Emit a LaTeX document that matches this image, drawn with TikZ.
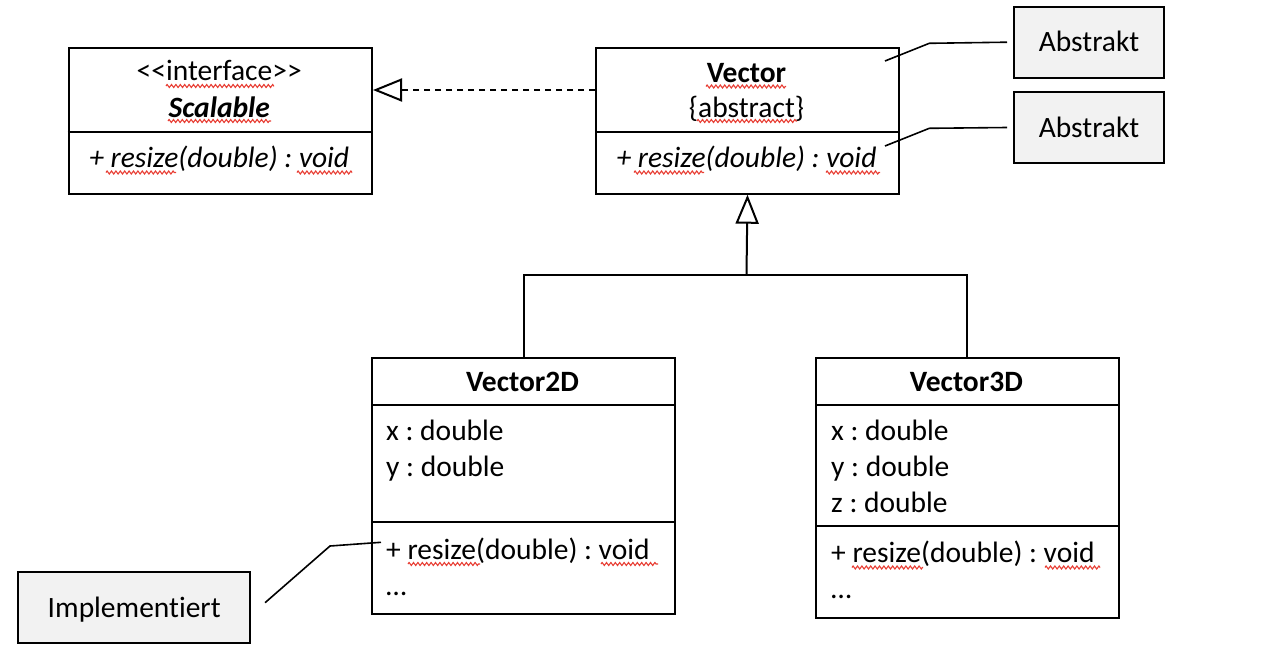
\documentclass[tikz,border=0pt]{standalone}
\usepackage{fontspec}
\setmainfont{Carlito}[Ligatures=NoCommon]
\usetikzlibrary{arrows.meta,decorations.pathmorphing}
\definecolor{notegray}{RGB}{242,242,242}
\definecolor{squigred}{RGB}{232,62,52}
\frenchspacing
\begin{document}
\begin{tikzpicture}[x=1pt,y=-1pt,
  every node/.style={font=\fontsize{29.5}{35.8}\selectfont, inner sep=0pt},
  classbox/.style={draw, line width=2pt, anchor=north west},
  sepline/.style={line width=2pt},
  txt/.style={anchor=base},
  txtl/.style={anchor=base west},
  notebox/.style={draw, line width=2pt, fill=notegray, minimum width=150pt, minimum height=71pt, text height=19pt, text depth=0pt},
  noteline/.style={line width=1.6pt},
  conn/.style={line width=2pt},
  opentri/.style={-{Triangle[open, length=29pt, width=23pt, line width=2pt]}},
  squig/.style={draw=squigred, line width=1.1pt, decorate, decoration={zigzag, amplitude=1.5pt, segment length=4.4pt}},
]
\useasboundingbox (0,0) rectangle (1278,656);

% ---------- Scalable ----------
\node[classbox, minimum width=303.5pt, minimum height=145.7pt] (scal) at (67.5,47) {};
\draw[sepline] (scal.west |- 0,131.7) -- (scal.east |- 0,131.7);
\node[txt] (scalst) at (219.2,80) {<{}<interface>{}>};
\node[txt] (scalnm) at (219.2,117) {\textbf{\textit{Scalable}}};
\node[txt] (scalm) at (219.2,167.3) {\textit{+ resize(double) : void}};

% ---------- Vector ----------
\node[classbox, minimum width=303pt, minimum height=145.7pt] (vec) at (595,47) {};
\draw[sepline] (vec.west |- 0,131.7) -- (vec.east |- 0,131.7);
\node[txt] (vecnm) at (746.5,82) {\textbf{Vector}};
\node[txt] (vecab) at (746.5,117) {\{abstract\}};
\node[txt] (vecm) at (746.5,167.3) {\textit{+ resize(double) : void}};

% ---------- Vector2D ----------
\node[classbox, minimum width=303pt, minimum height=255.5pt] (vtwo) at (371,357) {};
\draw[sepline] (vtwo.west |- 0,405) -- (vtwo.east |- 0,405);
\draw[sepline] (vtwo.west |- 0,522.3) -- (vtwo.east |- 0,522.3);
\node[txt] (vtwonm) at (522.5,391) {\textbf{Vector2D}};
\node[txtl] (vtwox) at (386,440) {x : double};
\node[txtl] (vtwoy) at (386,476) {y : double};
\node[txtl] (vtwom) at (386,559) {+ resize(double) : void};
\node[txtl] (vtwod) at (386,595) {…};

% ---------- Vector3D ----------
\node[classbox, minimum width=302.7pt, minimum height=259.5pt] (vthree) at (815,357) {};
\draw[sepline] (vthree.west |- 0,405) -- (vthree.east |- 0,405);
\draw[sepline] (vthree.west |- 0,525.7) -- (vthree.east |- 0,525.7);
\node[txt] (vthreenm) at (966.4,391) {\textbf{Vector3D}};
\node[txtl] (vthreex) at (831,440) {x : double};
\node[txtl] (vthreey) at (831,476) {y : double};
\node[txtl] (vthreez) at (831,512) {z : double};
\node[txtl] (vthreem) at (831,562.7) {+ resize(double) : void};
\node[txtl] (vthreed) at (831,598) {…};

% ---------- notes ----------
\node[notebox] (abone) at (1089,42.2) {Abstrakt};
\node[notebox, minimum height=71.6pt] (abtwo) at (1089,127.5) {Abstrakt};
\node[notebox, minimum width=231.7pt, minimum height=71.6pt, text height=20pt] (impl) at (134.2,607.5) {Implementiert};

% ---------- connectors ----------
\draw[conn, dash pattern=on 6.5pt off 4.5pt, opentri] ([yshift=30.85pt]vec.west) -- ([yshift=30.85pt]scal.east);
\coordinate (join) at (746.5,274.7);
\draw[conn, opentri] (join) -- (vec.south);
\draw[conn] (vtwo.north) |- (join) -| (vthree.north);

\coordinate (kone) at (929.3,43.3);
\coordinate (eone) at (885,61);
\draw[noteline] ([xshift=-6pt]abone.west) -- (kone) -- (eone);
\coordinate (ktwo) at (929.3,128.3);
\coordinate (etwo) at (885,146);
\draw[noteline] ([xshift=-6pt]abtwo.west) -- (ktwo) -- (etwo);
\coordinate (kthree) at (330,546);
\coordinate (ethree) at (381,542.3);
\draw[noteline] ([xshift=14pt,yshift=4.8pt]impl.east) -- (kthree) -- (ethree);

% ---------- spell-check squiggles ----------
\draw[squig] (166,86) -- (274,86);
\draw[squig] (168,121) -- (271,121);
\draw[squig] (106,172.5) -- (176,172.5);
\draw[squig] (297,172.5) -- (352,172.5);
\draw[squig] (706,86.5) -- (786,86.5);
\draw[squig] (697,121) -- (797,121);
\draw[squig] (634,172.5) -- (704,172.5);
\draw[squig] (826,172.5) -- (880,172.5);
\draw[squig] (408,564) -- (480,564);
\draw[squig] (601,564) -- (658,564);
\draw[squig] (852,567.5) -- (923,567.5);
\draw[squig] (1045,567.5) -- (1100,567.5);
\end{tikzpicture}
\end{document}
